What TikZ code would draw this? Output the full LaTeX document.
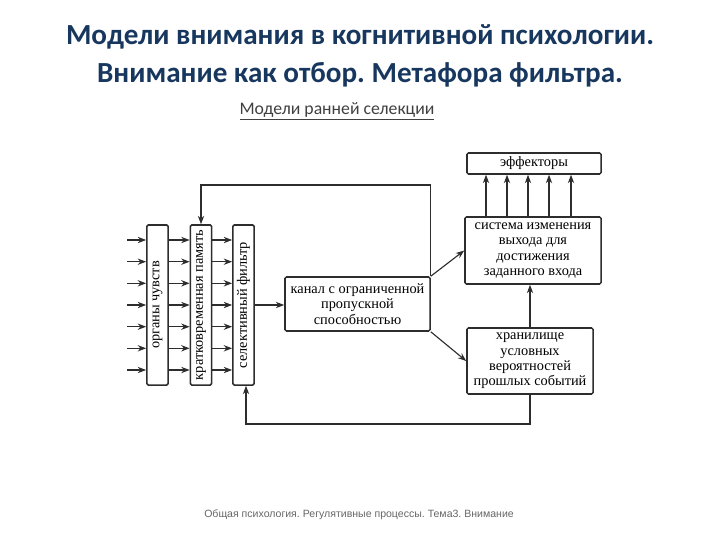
\documentclass[tikz,border=0pt]{standalone}
\usepackage{fontspec}
\setmainfont{Liberation Serif}
\newfontfamily\titlefont{Carlito}
\newfontfamily\footfont{Liberation Sans}
\usetikzlibrary{arrows.meta}
\frenchspacing
\definecolor{titleblue}{RGB}{23,55,94}
\definecolor{linegray}{RGB}{45,45,45}
\tikzset{
  box/.style={draw=linegray, line width=1.1pt, fill=white, inner sep=1pt, align=center,
    rounded corners=1pt, font=\fontsize{10.2}{10.9}\selectfont},
  vbox/.style={box, minimum width=0.53cm, minimum height=4cm},
  arr/.style={-{Stealth[length=6pt,width=4.5pt]}, draw=linegray, line width=0.8pt},
  line/.style={draw=linegray, line width=0.8pt},
}

\begin{document}
\begin{tikzpicture}[x=0.025cm, y=-0.025cm]
			%%%%% START %%%%%
			\useasboundingbox (0,0) rectangle (720,540);
			
			\node[text=titleblue, align=center, font=\titlefont\bfseries\fontsize{20.7}{27.5}\selectfont] (title) at (360,56)
			{Модели внимания в когнитивной психологии.\\Внимание как отбор. Метафора фильтра.};
			\node[text=black!75, font=\titlefont\fontsize{12.6}{14}\selectfont] (sub) at (337,111) {\underline{Модели ранней селекции}};
			
			% vertical boxes
			\node[vbox] (org) at (157.5,305) {\rotatebox{90}{органы чувств}};
			\node[vbox] (stm) at (201,305) {\rotatebox{90}{кратковременная память}};
			\node[vbox] (flt) at (243.5,305) {\rotatebox{90}{селективный фильтр}};
			
			% right boxes
			\node[box, minimum width=3.625cm, minimum height=1.35cm] (chan) at (357.5,304)
			{канал с ограниченной\\пропускной\\способностью};
			\node[box, minimum width=3.35cm, minimum height=0.525cm] (eff) at (534,163.5) {эффекторы};
			\node[box, minimum width=3.4cm, minimum height=1.675cm] (sys) at (533,250.5)
			{система изменения\\выхода для\\достижения\\заданного входа};
			\node[box, minimum width=3.15cm, minimum height=1.65cm] (sto) at (530,361)
			{хранилище\\условных\\вероятностей\\прошлых событий};
			
			% inputs and rows
			\foreach \i/\y in {1/240,2/261.7,3/283.3,4/305,5/326.7,6/348.3,7/370} {
				\coordinate (in\i) at (127,\y);
				\draw[arr] (in\i) -- (in\i -| org.west);
				\draw[arr] (in\i -| org.east) -- (in\i -| stm.west);
				\draw[arr] (in\i -| stm.east) -- (in\i -| flt.west);
			}
			\draw[arr] (flt.east) -- (flt.east -| chan.west);
			
			% effectors
			\foreach \i/\x in {1/486,2/507,3/528,4/549,5/571} {
				\coordinate (e\i) at (\x,200);
				\draw[arr] (e\i |- sys.north) -- (e\i |- eff.south);
			}
			
			\draw[arr] (chan.north east) -- (sys.west);
			\draw[arr] (chan.south east) -- (sto.west);
			\draw[arr] (sto.north) -- (sto.north |- sys.south);
			
			% feedback loops
			\coordinate (fbtop) at (201,185);
			\coordinate (fbbot) at (246,424);
			\draw[arr] (chan.north east) |- (fbtop) -- (stm.north);
			\draw[arr] (sto.south) |- (fbbot) -- (fbbot |- flt.south);
			
			\node[text=black!60, font=\footfont\fontsize{7.5}{9}\selectfont] (foot) at (359,515)
			{Общая психология. Регулятивные процессы. Тема3. Внимание};
			%%%%% END %%%%%
\end{tikzpicture}
\end{document}
